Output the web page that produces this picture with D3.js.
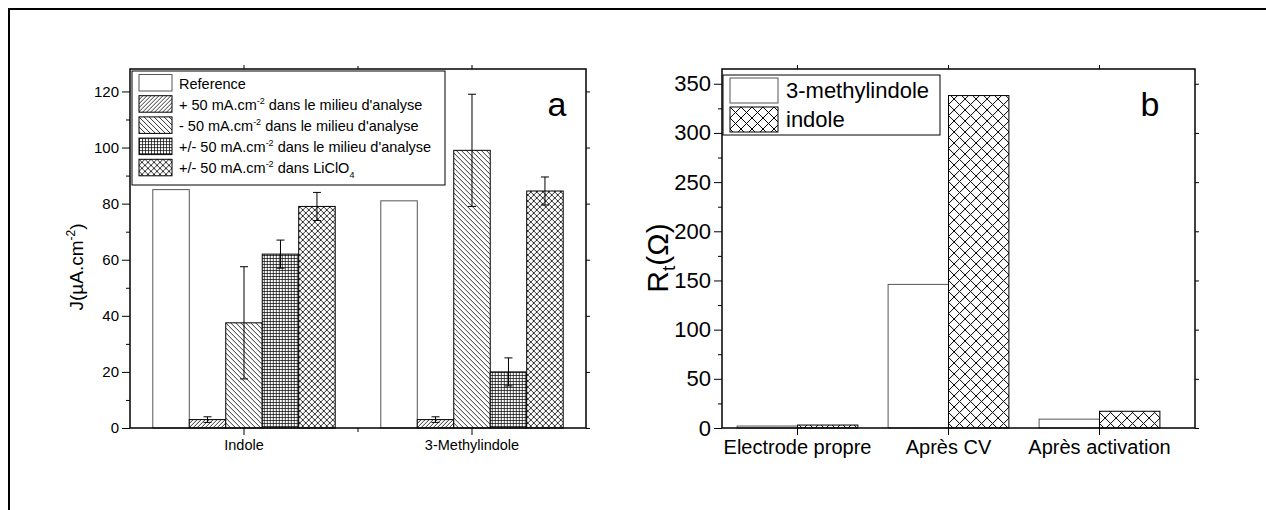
<!DOCTYPE html>
<html>
<head>
<meta charset="utf-8">
<script src="https://cdn.jsdelivr.net/npm/d3@7"></script>
<style>
  body { margin: 0; background: #fff; }
  text { font-family: 'Liberation Sans', Arial, sans-serif; fill: #000; }
</style>
</head>
<body>
<div id="chart"></div>
<script>
// panel a data
const groupsA = ['Indole', '3-Methylindole'];
const seriesA = ['ref', 'plus', 'minus', 'both', 'liclo'];
const refA = [85, 81];
const plusA = [3, 3];
const minusA = [37.5, 99];
const bothA = [62, 20];
const licloA = [79, 84.5];
const errRefA = [0, 0];
const errPlusA = [1, 1];
const errMinusA = [20, 20];
const errBothA = [5, 5];
const errLicloA = [5, 5];
const ticksA = [0, 20, 40, 60, 80, 100, 120];

// panel b data
const stagesB = ['Electrode propre', 'Après CV', 'Après activation'];
const seriesB = ['methyl', 'indole'];
const methylB = [2, 146, 9];
const indoleB = [3, 338, 17];
const ticksB = [0, 50, 100, 150, 200, 250, 300, 350];

const width = 1266;
const height = 510;

const svg = d3.select('#chart')
  .append('svg')
  .attr('width', width)
  .attr('height', height);

// hatch patterns
const defs = svg.append('defs');
const addPattern = (id, size, path, sw) => {
  const p = defs.append('pattern')
    .attr('id', id)
    .attr('patternUnits', 'userSpaceOnUse')
    .attr('width', size)
    .attr('height', size);
  p.append('rect').attr('width', size).attr('height', size).attr('fill', '#fff');
  p.append('path').attr('d', path).attr('stroke', '#000').attr('stroke-width', sw).attr('fill', 'none');
};
addPattern('fwd', 4, 'M-1,1 L1,-1 M0,4 L4,0 M3,5 L5,3', 0.8);
addPattern('back', 5, 'M0,0 L5,5 M-1,4 L1,6 M4,-1 L6,1', 0.8);
addPattern('grid', 3, 'M0,0.5 H3 M0.5,0 V3', 0.7);
addPattern('cross', 6, 'M0,0 L6,6 M6,0 L0,6', 0.8);
addPattern('crossB', 11, 'M0,0 L11,11 M11,0 L0,11', 1);

const fillA = { ref: '#fff', plus: 'url(#fwd)', minus: 'url(#back)', both: 'url(#grid)', liclo: 'url(#cross)' };
const fillB = { methyl: '#fff', indole: 'url(#crossB)' };

// outer frame
svg.append('rect')
   .attr('x', 9).attr('y', 9)
   .attr('width', 1400).attr('height', 700)
   .attr('fill', 'none').attr('stroke', '#000').attr('stroke-width', 2);

// ---------- panel a ----------
const a = { left: 130, right: 586, top: 69, bottom: 428 };

const xA = d3.scaleBand().domain(groupsA).range([a.left, a.right]).paddingInner(0.2).paddingOuter(0.1);
const xInA = d3.scaleBand().domain(seriesA).range([0, xA.bandwidth()]);
const yA = d3.scaleLinear().domain([0, 128]).range([a.bottom, a.top]);

const rowsA = groupsA.map((g, i) => ({
  group: g,
  bars: [
    { key: 'ref', v: refA[i], e: errRefA[i] },
    { key: 'plus', v: plusA[i], e: errPlusA[i] },
    { key: 'minus', v: minusA[i], e: errMinusA[i] },
    { key: 'both', v: bothA[i], e: errBothA[i] },
    { key: 'liclo', v: licloA[i], e: errLicloA[i] }
  ]
}));

const gA = svg.append('g');

const groupSel = gA.selectAll('g.grp')
  .data(rowsA)
  .enter()
  .append('g')
  .attr('class', 'grp')
  .attr('transform', d => 'translate(' + xA(d.group) + ',0)');

groupSel.selectAll('rect')
  .data(d => d.bars)
  .enter()
  .append('rect')
  .attr('x', d => xInA(d.key))
  .attr('y', d => yA(d.v))
  .attr('width', xInA.bandwidth())
  .attr('height', d => yA(0) - yA(d.v))
  .attr('fill', d => fillA[d.key])
  .attr('stroke', d => d.key === 'ref' ? '#555' : '#000')
  .attr('stroke-width', 1);

// error bars
const errSel = groupSel.selectAll('g.err')
  .data(d => d.bars.filter(b => b.e > 0))
  .enter()
  .append('g')
  .attr('class', 'err')
  .attr('stroke', '#000')
  .attr('stroke-width', 1);
errSel.append('line')
  .attr('x1', d => xInA(d.key) + xInA.bandwidth() / 2)
  .attr('x2', d => xInA(d.key) + xInA.bandwidth() / 2)
  .attr('y1', d => yA(d.v - d.e))
  .attr('y2', d => yA(d.v + d.e));
[1, -1].forEach(s => {
  errSel.append('line')
    .attr('x1', d => xInA(d.key) + xInA.bandwidth() / 2 - 4)
    .attr('x2', d => xInA(d.key) + xInA.bandwidth() / 2 + 4)
    .attr('y1', d => yA(d.v + s * d.e))
    .attr('y2', d => yA(d.v + s * d.e));
});

// axes a
gA.append('g')
  .attr('transform', 'translate(' + a.left + ',0)')
  .call(d3.axisLeft(yA).tickValues(ticksA).tickSize(8).tickPadding(3))
  .call(g => g.selectAll('text').style('font-size', '15px').style('font-family', 'Liberation Sans, Arial'))
  .call(g => g.select('.domain').remove());
gA.append('g')
  .attr('transform', 'translate(' + a.left + ',0)')
  .call(d3.axisLeft(yA).tickValues(d3.range(10, 130, 20)).tickSize(4).tickFormat(''))
  .call(g => g.select('.domain').remove());
// mirror ticks right
gA.append('g')
  .attr('transform', 'translate(' + a.right + ',0)')
  .call(d3.axisRight(yA).tickValues(ticksA).tickSize(4).tickFormat(''))
  .call(g => g.select('.domain').remove());

gA.append('g')
  .attr('transform', 'translate(0,' + a.bottom + ')')
  .call(d3.axisBottom(xA).tickSize(7).tickPadding(5))
  .call(g => g.selectAll('text').style('font-size', '14.5px').style('font-family', 'Liberation Sans, Arial'))
  .call(g => g.select('.domain').remove());
// minor tick between groups
const midA = (xA(groupsA[0]) + xA.bandwidth() + xA(groupsA[1])) / 2;
gA.append('line').attr('x1', midA).attr('x2', midA).attr('y1', a.bottom).attr('y2', a.bottom + 4).attr('stroke', '#000');
gA.append('line').attr('x1', midA).attr('x2', midA).attr('y1', a.top).attr('y2', a.top - 3).attr('stroke', '#000');
gA.selectAll('line.topt')
  .data(groupsA)
  .enter()
  .append('line')
  .attr('class', 'topt')
  .attr('x1', d => xA(d) + xA.bandwidth() / 2)
  .attr('x2', d => xA(d) + xA.bandwidth() / 2)
  .attr('y1', a.top).attr('y2', a.top - 4)
  .attr('stroke', '#000');

gA.append('rect')
  .attr('x', a.left).attr('y', a.top)
  .attr('width', a.right - a.left).attr('height', a.bottom - a.top)
  .attr('fill', 'none').attr('stroke', '#000').attr('stroke-width', 1.5);

gA.append('text')
  .attr('transform', 'translate(83,267) rotate(-90)')
  .attr('text-anchor', 'middle')
  .style('font-size', '19px')
  .call(t => {
    t.append('tspan').text('J(µA.cm');
    t.append('tspan').attr('dy', -8).style('font-size', '12px').text('-2');
    t.append('tspan').attr('dy', 8).text(')');
  });

gA.append('text')
  .attr('x', 557).attr('y', 116)
  .attr('text-anchor', 'middle')
  .style('font-size', '34px')
  .text('a');

// legend a
const legA = [
  { key: 'ref', parts: [['Reference', 0]] },
  { key: 'plus', parts: [['+ 50 mA.cm', 0], ['-2', -1], [' dans le milieu d\'analyse', 1]] },
  { key: 'minus', parts: [['- 50 mA.cm', 0], ['-2', -1], [' dans le milieu d\'analyse', 1]] },
  { key: 'both', parts: [['+/- 50 mA.cm', 0], ['-2', -1], [' dans le milieu d\'analyse', 1]] },
  { key: 'liclo', parts: [['+/- 50 mA.cm', 0], ['-2', -1], [' dans LiClO', 1], ['4', 2]] }
];
gA.append('rect')
  .attr('x', 132).attr('y', 71).attr('width', 313).attr('height', 114)
  .attr('fill', '#fff').attr('stroke', '#000').attr('stroke-width', 1);
const legRowA = gA.selectAll('g.legA')
  .data(legA)
  .enter()
  .append('g')
  .attr('class', 'legA')
  .attr('transform', (d, i) => 'translate(139,' + (74.5 + i * 21.2) + ')');
legRowA.append('rect')
  .attr('width', 33).attr('height', 16.5)
  .attr('fill', d => fillA[d.key])
  .attr('stroke', d => d.key === 'ref' ? '#555' : '#000').attr('stroke-width', 1);
legRowA.append('text')
  .attr('x', 40).attr('y', 14)
  .style('font-size', '14.5px')
  .each(function(d) {
    const t = d3.select(this);
    d.parts.forEach(p => {
      const ts = t.append('tspan').text(p[0]);
      if (p[1] === -1) ts.attr('dy', -6).style('font-size', '9px');
      if (p[1] === 1) ts.attr('dy', 6);
      if (p[1] === 2) ts.attr('dy', 5).style('font-size', '9px');
    });
  });

// ---------- panel b ----------
const b = { left: 722, right: 1195, top: 69, bottom: 428 };
// categories sit on a 151px step; the frame runs a bit past the last slot
const bandEnd = 1175;

const xB = d3.scaleBand().domain(stagesB).range([b.left, bandEnd]).paddingInner(0.2).paddingOuter(0.1);
const xInB = d3.scaleBand().domain(seriesB).range([0, xB.bandwidth()]);
const yB = d3.scaleLinear().domain([0, 365]).range([b.bottom, b.top]);

const rowsB = stagesB.map((s, i) => ({
  stage: s,
  bars: [{ key: 'methyl', v: methylB[i] }, { key: 'indole', v: indoleB[i] }]
}));

const gB = svg.append('g');
gB.selectAll('g.grp')
  .data(rowsB)
  .enter()
  .append('g')
  .attr('transform', d => 'translate(' + xB(d.stage) + ',0)')
  .selectAll('rect')
  .data(d => d.bars)
  .enter()
  .append('rect')
  .attr('x', d => xInB(d.key))
  .attr('y', d => yB(d.v))
  .attr('width', xInB.bandwidth())
  .attr('height', d => yB(0) - yB(d.v))
  .attr('fill', d => fillB[d.key])
  .attr('stroke', d => d.key === 'methyl' ? '#555' : '#000')
  .attr('stroke-width', 1);

gB.append('g')
  .attr('transform', 'translate(' + b.left + ',0)')
  .call(d3.axisLeft(yB).tickValues(ticksB).tickSize(8).tickPadding(3))
  .call(g => g.selectAll('text').style('font-size', '22px').style('font-family', 'Liberation Sans, Arial'))
  .call(g => g.select('.domain').remove());
gB.append('g')
  .attr('transform', 'translate(' + b.left + ',0)')
  .call(d3.axisLeft(yB).tickValues(d3.range(25, 365, 50)).tickSize(4).tickFormat(''))
  .call(g => g.select('.domain').remove());
gB.append('g')
  .attr('transform', 'translate(' + b.right + ',0)')
  .call(d3.axisRight(yB).tickValues(ticksB).tickSize(4).tickFormat(''))
  .call(g => g.select('.domain').remove());
gB.append('g')
  .attr('transform', 'translate(0,' + b.bottom + ')')
  .call(d3.axisBottom(xB).tickSize(7).tickPadding(5))
  .call(g => g.selectAll('text').style('font-size', '20px').style('font-family', 'Liberation Sans, Arial'))
  .call(g => g.select('.domain').remove());
gB.selectAll('line.topt')
  .data(stagesB)
  .enter()
  .append('line')
  .attr('x1', d => xB(d) + xB.bandwidth() / 2)
  .attr('x2', d => xB(d) + xB.bandwidth() / 2)
  .attr('y1', b.top).attr('y2', b.top - 4)
  .attr('stroke', '#000');

gB.append('rect')
  .attr('x', b.left).attr('y', b.top)
  .attr('width', b.right - b.left).attr('height', b.bottom - b.top)
  .attr('fill', 'none').attr('stroke', '#000').attr('stroke-width', 1.5);

gB.append('text')
  .attr('transform', 'translate(668,258) rotate(-90)')
  .attr('text-anchor', 'middle')
  .style('font-size', '30px')
  .call(t => {
    t.append('tspan').text('R');
    t.append('tspan').attr('dy', 7).style('font-size', '19px').text('t');
    t.append('tspan').attr('dy', -7).text('(Ω)');
  });

gB.append('text')
  .attr('x', 1150).attr('y', 116)
  .attr('text-anchor', 'middle')
  .style('font-size', '34px')
  .text('b');

// legend b
const legB = [{ key: 'methyl', label: '3-methylindole' }, { key: 'indole', label: 'indole' }];
gB.append('rect')
  .attr('x', 723).attr('y', 75).attr('width', 217).attr('height', 60)
  .attr('fill', '#fff').attr('stroke', '#000').attr('stroke-width', 1);
const legRowB = gB.selectAll('g.legB')
  .data(legB)
  .enter()
  .append('g')
  .attr('class', 'legB')
  .attr('transform', (d, i) => 'translate(730,' + (78 + i * 29) + ')');
legRowB.append('rect')
  .attr('width', 48).attr('height', 25)
  .attr('fill', d => fillB[d.key])
  .attr('stroke', d => d.key === 'methyl' ? '#555' : '#000').attr('stroke-width', 1);
legRowB.append('text')
  .attr('x', 56).attr('y', 20)
  .style('font-size', '22px')
  .text(d => d.label);
</script>
</body>
</html>
